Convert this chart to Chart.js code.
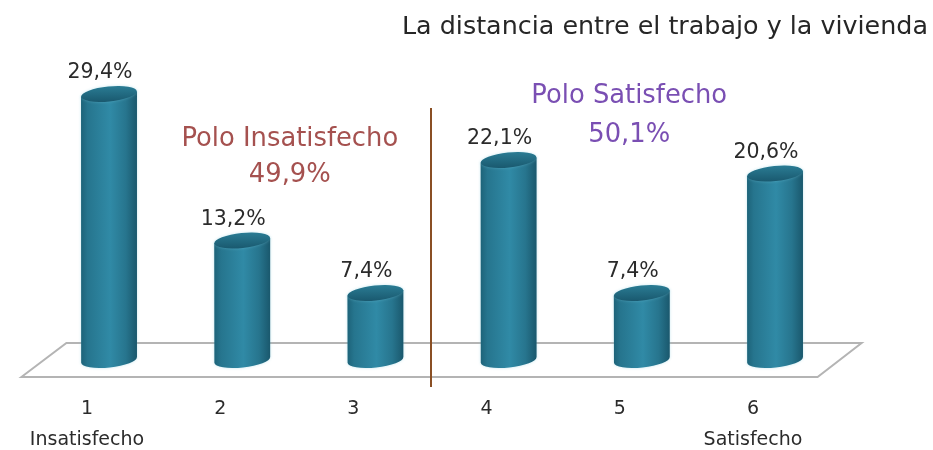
<!DOCTYPE html>
<html lang="es">
<head>
<meta charset="utf-8">
<title>La distancia entre el trabajo y la vivienda</title>
<script src="https://cdn.jsdelivr.net/npm/chart.js@4"></script>
<style>
html,body{margin:0;padding:0;background:#fff}
#wrap{width:933px;height:450px;position:relative}
</style>
</head>
<body>
<div id="wrap"><canvas id="c"></canvas></div>
<script>
const categories = [["1","Insatisfecho"],"2","3","4","5",["6","Satisfecho"]];
const values = [29.4,13.2,7.4,22.1,7.4,20.6];
const valueLabels = ["29,4%","13,2%","7,4%","22,1%","7,4%","20,6%"];
const chartTitle = "La distancia entre el trabajo y la vivienda";
const poleLeft = ["Polo Insatisfecho","49,9%"];
const poleRight = ["Polo Satisfecho","50,1%"];
const FONT = '"DejaVu Sans", sans-serif';

const cylinders = {
  id:'cylinders',
  beforeDatasetsDraw(chart){
    const {ctx,chartArea:a,scales:{y}} = chart;
    const b = y.getPixelForValue(0);
    // floor
    ctx.save();
    ctx.beginPath();
    ctx.moveTo(a.left-21,b+17);
    ctx.lineTo(a.left+24,b-17);
    ctx.lineTo(a.right+20,b-17);
    ctx.lineTo(a.right-24,b+17);
    ctx.closePath();
    ctx.strokeStyle='#b4b4b4';
    ctx.lineWidth=2;
    ctx.stroke();
    ctx.restore();
  },
  afterDatasetsDraw(chart){
    const {ctx} = chart;
    const bars = chart.getDatasetMeta(0).data;
    const tilt = -0.1;
    bars.forEach(el=>{
      const rx = el.width/2, ry = 7.5, t = rx*Math.sin(-tilt)*0.9;
      const l = el.x-rx, r = el.x+rx, top = el.y, base = el.base;
      const g = ctx.createLinearGradient(l,0,r,0);
      g.addColorStop(0,'#1d6379');
      g.addColorStop(0.12,'#26758e');
      g.addColorStop(0.52,'#308aa6');
      g.addColorStop(0.8,'#27758e');
      g.addColorStop(1,'#1a586d');
      ctx.save();
      ctx.shadowColor='rgba(120,200,220,0.45)';
      ctx.shadowBlur=3;
      ctx.fillStyle=g;
      ctx.beginPath();
      ctx.moveTo(l,top+t);
      ctx.lineTo(r,top-t);
      ctx.lineTo(r,base-t);
      ctx.ellipse(el.x,base,rx,ry,tilt,0,Math.PI);
      ctx.lineTo(l,top+t);
      ctx.closePath();
      ctx.fill();
      const tg = ctx.createLinearGradient(0,top-ry,0,top+ry);
      tg.addColorStop(0,'#2a7b93');
      tg.addColorStop(1,'#1a5a70');
      ctx.fillStyle=tg;
      ctx.beginPath();
      ctx.ellipse(el.x,top,rx,ry,tilt,0,Math.PI*2);
      ctx.fill();
      ctx.restore();
    });
  },
  afterDraw(chart){
    const {ctx,scales:{x}} = chart;
    const bars = chart.getDatasetMeta(0).data;
    ctx.save();
    ctx.textBaseline='middle';
    ctx.textAlign='right';
    ctx.fillStyle='#262626';
    ctx.font='25.4px '+FONT;
    ctx.fillText(chartTitle,chart.width-5,27);
    ctx.textAlign='center';
    ctx.fillStyle='#2b2b2b';
    ctx.font='20.5px '+FONT;
    bars.forEach((el,i)=>ctx.fillText(valueLabels[i],el.x-9,el.y-21));
    // divider between the two poles
    const mid = (x.getPixelForValue(2)+x.getPixelForValue(3))/2-11;
    ctx.strokeStyle='#8a4f24';
    ctx.lineWidth=2;
    ctx.beginPath();
    ctx.moveTo(mid,108);
    ctx.lineTo(mid,387);
    ctx.stroke();
    // pole captions
    const px = i=>x.getPixelForValue(i);
    ctx.font='25.8px '+FONT;
    ctx.fillStyle='#a5514f';
    ctx.fillText(poleLeft[0],(px(1)+px(2))/2-19,139);
    ctx.fillText(poleLeft[1],(px(1)+px(2))/2-19,175);
    ctx.fillStyle='#7a4fb3';
    ctx.fillText(poleRight[0],(px(3)+px(4))/2+54,96);
    ctx.fillText(poleRight[1],(px(3)+px(4))/2+54,135);
    ctx.restore();
  }
};

new Chart(document.getElementById('c'),{
  type:'bar',
  data:{labels:categories,datasets:[{
    data:values,
    backgroundColor:'rgba(0,0,0,0)',
    barPercentage:0.42,
    categoryPercentage:1
  }]},
  options:{
    responsive:true,
    maintainAspectRatio:false,
    animation:false,
    layout:{padding:{left:42.4,right:91.4,top:60,bottom:0}},
    plugins:{
      legend:{display:false},
      tooltip:{enabled:false},
      title:{display:false}
    },
    scales:{
      y:{display:false,min:0,max:33.15},
      x:{
        grid:{display:false},
        border:{display:false},
        afterFit(s){s.height=90;},
        ticks:{
          color:'#2b2b2b',
          maxRotation:0,
          autoSkip:false,
          padding:26,
          labelOffset:-22,
          font:{family:FONT,size:19,lineHeight:1.63}
        }
      }
    }
  },
  plugins:[cylinders]
});
</script>
</body>
</html>
